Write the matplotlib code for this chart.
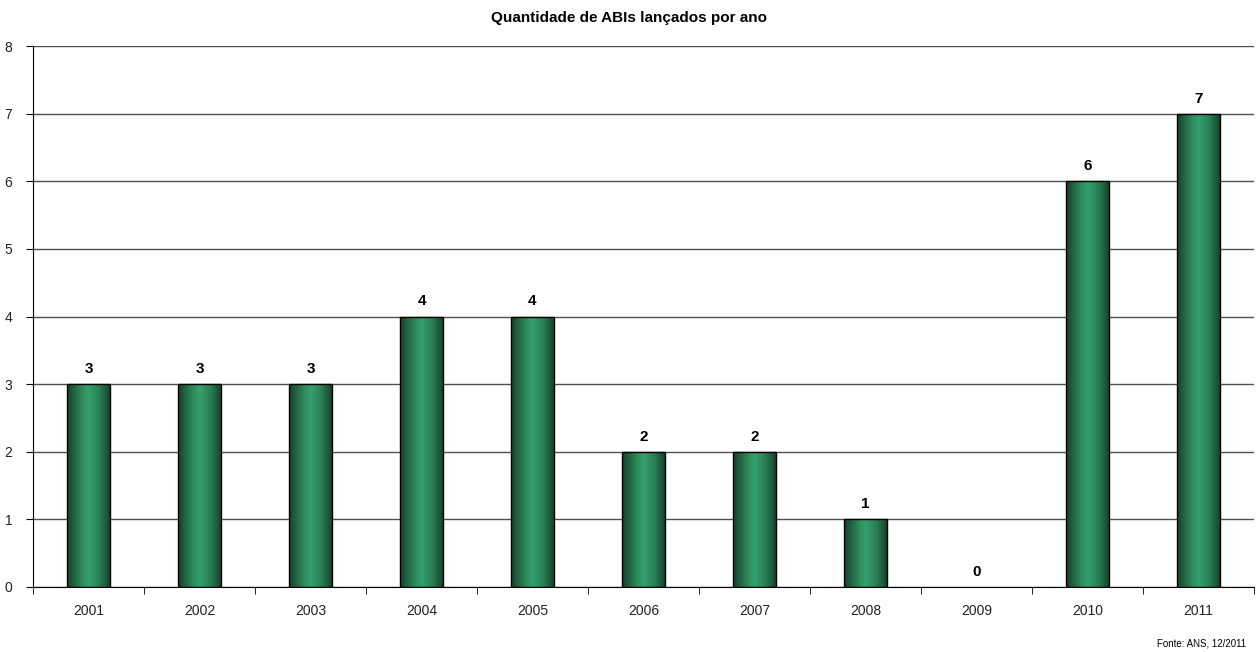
import matplotlib.pyplot as plt
import numpy as np
from matplotlib.colors import LinearSegmentedColormap
from matplotlib.patches import Rectangle

years = ['2001', '2002', '2003', '2004', '2005', '2006', '2007', '2008', '2009', '2010', '2011']
counts = [3, 3, 3, 4, 4, 2, 2, 1, 0, 6, 7]

fig = plt.figure(figsize=(12.58, 6.52), dpi=100)
ax = fig.add_axes([33 / 1258, 1 - 587 / 652, (1254 - 33) / 1258, (587 - 46) / 652])

x = np.arange(len(years))
width = 0.39

# gradient for the bars: dark edges, lighter band a bit left of centre
cmap = LinearSegmentedColormap.from_list(
    'bar', [(0.0, '#173f2b'), (0.35, '#2e8c5c'), (0.5, '#35a06e'), (0.75, '#287d52'), (1.0, '#163d29')])
grad = np.linspace(0, 1, 256).reshape(1, -1)

bars = ax.bar(x, counts, width=width, color='none', edgecolor='black', linewidth=1, zorder=3)
for bar in bars:
    h = bar.get_height()
    if h <= 0:
        bar.set_visible(False)
        continue
    x0 = bar.get_x()
    img = ax.imshow(grad, cmap=cmap, aspect='auto', extent=(x0, x0 + width, 0, h), zorder=2)
    img.set_clip_path(Rectangle((x0, 0), width, h, transform=ax.transData))

for xi, v in zip(x, counts):
    ax.text(xi, v + 0.12, str(v), ha='center', va='bottom', fontsize=11, fontweight='bold',
            family=['Liberation Sans', 'DejaVu Sans'])

ax.set_xlim(-0.5, len(years) - 0.5)
ax.set_ylim(0, 8)
ax.set_yticks(range(0, 9))
ax.yaxis.grid(True, color='#505050', linewidth=1)
ax.set_axisbelow(True)

ax.set_xticks(x)
ax.set_xticklabels(years)
ax.set_xticks(np.arange(-0.5, len(years)), minor=True)
ax.tick_params(axis='x', which='major', length=0, pad=12)
ax.tick_params(axis='x', which='minor', length=5, direction='out', color='black')
ax.tick_params(axis='y', length=5, direction='out', color='black', pad=10)
for lab in ax.get_xticklabels() + ax.get_yticklabels():
    lab.set_fontsize(10)
    lab.set_family(['Liberation Sans', 'DejaVu Sans'])
    lab.set_color('#222222')

for s in ['top', 'right']:
    ax.spines[s].set_visible(False)
ax.spines['left'].set_color('black')
ax.spines['bottom'].set_color('black')

fig.text(0.5, 1 - 18 / 652, 'Quantidade de ABIs lançados por ano', ha='center', va='center',
         fontsize=11, fontweight='bold', family=['Liberation Sans', 'DejaVu Sans'])
fig.text(1 - 12 / 1258, 1 - 644 / 652, 'Fonte: ANS, 12/2011', ha='right', va='center',
         fontsize=7, family=['Liberation Sans', 'DejaVu Sans'])

fig.savefig('out.png', dpi=100)
